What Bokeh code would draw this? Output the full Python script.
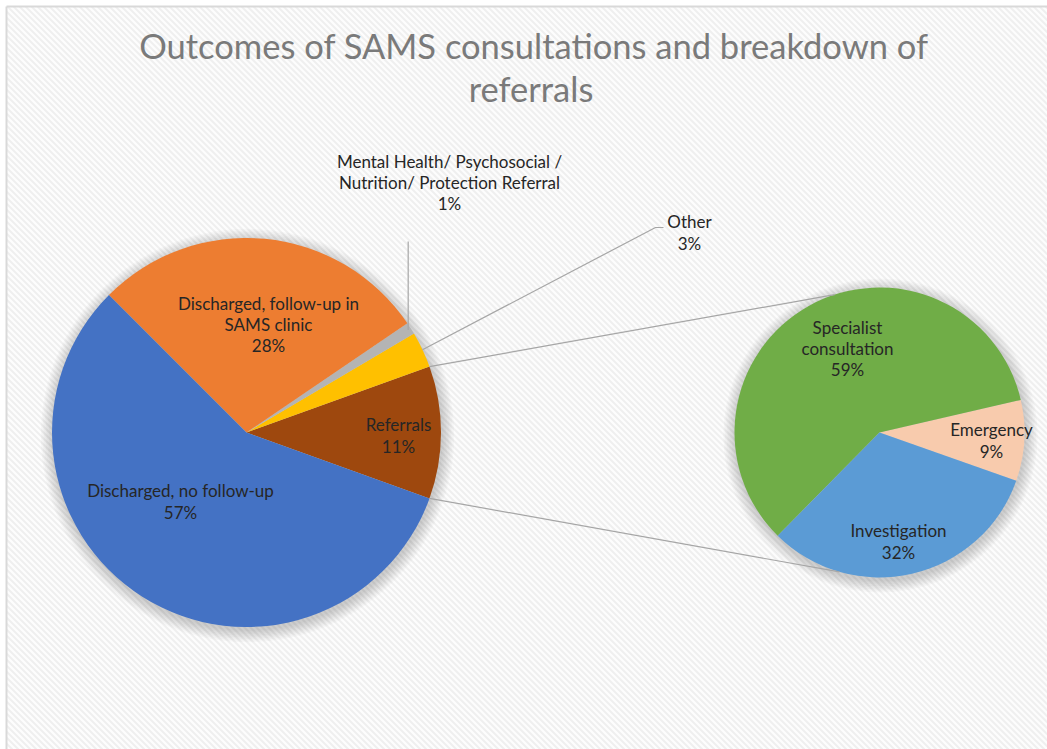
import math
from bokeh.plotting import figure
from bokeh.models import ColumnDataSource, Range1d
from bokeh.core.properties import value
from bokeh.embed import file_html
from bokeh.resources import INLINE

# ---------------- data ----------------
title_lines = ["Outcomes of SAMS consultations and breakdown of", "referrals"]

main_categories = ["Referrals", "Other",
                   "Mental Health/ Psychosocial / Nutrition/ Protection Referral",
                   "Discharged, follow-up in SAMS clinic",
                   "Discharged, no follow-up"]
main_values = [11, 3, 1, 28, 57]
main_display = ["Referrals\n11%", "Other\n3%",
                "Mental Health/ Psychosocial /\nNutrition/ Protection Referral\n1%",
                "Discharged, follow-up in\nSAMS clinic\n28%",
                "Discharged, no follow-up\n57%"]

sub_categories = ["Emergency", "Specialist consultation", "Investigation"]
sub_values = [9, 59, 32]
sub_display = ["Emergency\n9%", "Specialist\nconsultation\n59%", "Investigation\n32%"]

# ---------------- layout / style ----------------
W, H = 1047, 749
main_colors = ["#9E480E", "#FFC000", "#B4B4B4", "#ED7D31", "#4472C4"]
sub_colors = ["#F8CBAD", "#70AD47", "#5B9BD5"]
FONT = "Lato"
TEXT_COLOR = "#262626"

C1 = (246, 432); R1 = 194.5
C2 = (879, 432); R2 = 145
sub_start_deg = -19.4

# label anchors (pixel coords, centre of text block)
main_label_pos = [(398, 435), (689, 232), (449, 182), (268, 324), (180, 501)]
sub_label_pos = [(991, 440), (847, 348), (898, 541)]


def Y(y):
    return H - y


p = figure(width=W, height=H, output_backend="svg", toolbar_location=None,
           x_range=Range1d(0, W), y_range=Range1d(0, H), min_border=0)
p.axis.visible = False
p.grid.visible = False
p.outline_line_color = None
p.background_fill_color = "white"
p.border_fill_color = "white"

# chart area background with subtle diagonal stripes
p.quad(left=[6], right=[W + 5], top=[Y(6)], bottom=[Y(H + 5)], fill_color="#FDFDFD",
       line_color=None)
step = 6
hx, hy = [], []
for k in range(-H, W + H, step):
    # line going down-right: from (k, 6) to (k + L, 6 + L), clipped to area
    x0, y0 = k, 6
    x1, y1 = k + (H - 6), H
    if x0 < 6:
        y0 = 6 + (6 - x0); x0 = 6
    if x1 > W:
        y1 = y1 - (x1 - W); x1 = W
    if y0 < y1 and x0 < x1:
        hx.append([x0, x1]); hy.append([Y(y0), Y(y1)])
p.multi_line(xs=hx, ys=hy, line_color="#EFEFEF", line_width=2)
# border: top and left edges
p.multi_line(xs=[[6, W + 5], [6, 6]], ys=[[Y(6), Y(6)], [Y(6), Y(H + 5)]],
             line_color="#D9D9D9", line_width=2)

# title
p.text(x=[W / 2 + 10, W / 2 + 7], y=[Y(45), Y(88)], text=title_lines,
       text_font=value(FONT), text_font_size="34.5px", text_color="#7A7A7A",
       text_align="center", text_baseline="alphabetic")

# soft shadows
for (cx, cy), r in ((C1, R1), (C2, R2)):
    for i in range(8):
        p.circle(x=[cx + 1], y=[Y(cy + 3)], radius=r + 1 + i * 1.6,
                 fill_color="black", fill_alpha=0.022, line_color=None)


def wedges(values, start_deg):
    total = float(sum(values))
    starts, ends = [], []
    a = math.radians(start_deg)
    for v in values:
        span = 2 * math.pi * v / total
        starts.append(a)
        ends.append(a + span)
        a += span
    return starts, ends


# main pie: combined "Referrals" slice centred on the right horizontal
half = math.pi * main_values[0] / sum(main_values)
m_start, m_end = wedges(main_values, -math.degrees(half))
src1 = ColumnDataSource(dict(x=[C1[0]] * 5, y=[Y(C1[1])] * 5, s=m_start, e=m_end,
                             c=main_colors, cat=main_categories))
p.wedge(x="x", y="y", radius=R1, start_angle="s", end_angle="e", fill_color="c",
        line_color=None, source=src1)

s_start, s_end = wedges(sub_values, sub_start_deg)
src2 = ColumnDataSource(dict(x=[C2[0]] * 3, y=[Y(C2[1])] * 3, s=s_start, e=s_end,
                             c=sub_colors, cat=sub_categories))
p.wedge(x="x", y="y", radius=R2, start_angle="s", end_angle="e", fill_color="c",
        line_color=None, source=src2)

# connector lines between the referral slice and the secondary pie
ref_top = m_end[0]
ref_bot = m_start[0]
a_top = math.radians(108)
a_bot = math.radians(254)
xs = [[C1[0] + R1 * math.cos(ref_top), C2[0] + R2 * math.cos(a_top)],
      [C1[0] + R1 * math.cos(ref_bot), C2[0] + R2 * math.cos(a_bot)]]
ys = [[Y(C1[1]) + R1 * math.sin(ref_top), Y(C2[1]) + R2 * math.sin(a_top)],
      [Y(C1[1]) + R1 * math.sin(ref_bot), Y(C2[1]) + R2 * math.sin(a_bot)]]
p.multi_line(xs=xs, ys=ys, line_color="#A6A6A6", line_width=1.2)

# leader lines for small slices
mid_other = (m_start[1] + m_end[1]) / 2
ox = C1[0] + R1 * math.cos(mid_other)
oy = Y(C1[1]) + R1 * math.sin(mid_other)
mid_mh = (m_start[2] + m_end[2]) / 2
mx = C1[0] + (R1 - 3) * math.cos(mid_mh)
my = Y(C1[1]) + (R1 - 3) * math.sin(mid_mh)
p.multi_line(xs=[[ox, 655, 663], [mx, mx]], ys=[[oy, Y(227), Y(227)], [my, Y(241)]],
             line_color="#A6A6A6", line_width=1.2)

# data labels
lab = ColumnDataSource(dict(x=[q[0] for q in main_label_pos] + [q[0] for q in sub_label_pos],
                            y=[Y(q[1]) for q in main_label_pos] + [Y(q[1]) for q in sub_label_pos],
                            t=main_display + sub_display))
p.text(x="x", y="y", text="t", source=lab, text_font=value(FONT), text_font_size="17px",
       text_color=TEXT_COLOR, text_align="center", text_baseline="middle",
       text_line_height=1.02)

open("out.html", "w").write(file_html(p, INLINE))
